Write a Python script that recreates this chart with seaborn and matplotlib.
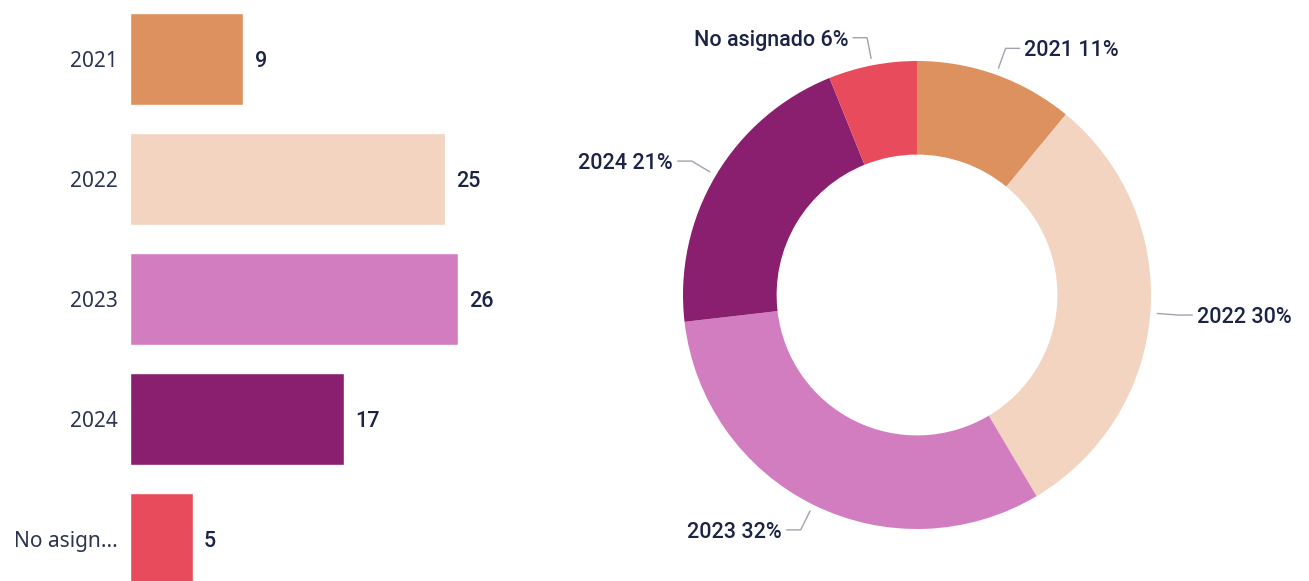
import numpy as np
import pandas as pd
import seaborn as sns
import matplotlib.pyplot as plt

# data
categorias = ["2021", "2022", "2023", "2024", "No asignado"]
etiquetas_eje = ["2021", "2022", "2023", "2024", "No asign..."]
cantidades = [9, 25, 26, 17, 5]
colores = ["#DD915E", "#F2D4C0", "#D37DC1", "#8B1F6F", "#E84C5C"]

texto_eje = "#2B3550"
texto_dato = "#1B2447"
gris_linea = "#9EA3AE"

sns.set_theme(style="white")
plt.rcParams["font.family"] = ["Noto Sans", "DejaVu Sans"]

fig = plt.figure(figsize=(13.09, 5.81), dpi=100)
W, H = 1309, 581

# ---- left: horizontal bars
ax = fig.add_axes([130 / W, 0, 400 / W, 1])
df = pd.DataFrame({"cat": categorias, "n": cantidades})
sns.barplot(data=df, y="cat", x="n", hue="cat", palette=colores,
            orient="h", width=0.767, legend=False, ax=ax, saturation=1)
ax.set_xlim(0, 400 / 12.6)
ax.set_ylim(522 / 120, -59 / 120)
ax.set_xlabel("")
ax.set_ylabel("")
ax.set_xticks([])
ax.set_yticks(range(len(categorias)))
ax.set_yticklabels(etiquetas_eje, fontsize=15, color=texto_eje)
ax.tick_params(axis="y", length=0, pad=9)
for s in ax.spines.values():
    s.set_visible(False)
for i, v in enumerate(cantidades):
    ax.annotate(str(v), (v, i), xytext=(8, 0), textcoords="offset points",
                va="center_baseline", ha="left", fontsize=15.5, color=texto_dato,
                family="Roboto", fontweight="medium")

# ---- right: donut
cx, cy, r = 917, 295, 234
axd = fig.add_axes([(cx - r) / W, (H - cy - r) / H, 2 * r / W, 2 * r / H])
wedges, _ = axd.pie(cantidades, colors=colores, startangle=90, counterclock=False,
                    radius=1.0, wedgeprops=dict(width=0.4, linewidth=0))
axd.set_xlim(-1, 1)
axd.set_ylim(-1, 1)
axd.set_aspect("equal")
axd.axis("off")

total = sum(cantidades)
for w, cat, v in zip(wedges, categorias, cantidades):
    ang = np.deg2rad((w.theta1 + w.theta2) / 2)
    c, s = np.cos(ang), np.sin(ang)
    x0, y0 = 1.03 * c, 1.03 * s
    x1, y1 = 1.12 * c, 1.12 * s
    d = 1 if c >= 0 else -1
    x2 = x1 + d * 0.06
    axd.plot([x0, x1, x2], [y0, y1, y1], color=gris_linea, lw=1, clip_on=False)
    axd.text(x2 + d * 0.02, y1, f"{cat} {round(100 * v / total)}%",
             ha="left" if d > 0 else "right", va="center_baseline", fontsize=15.5,
             color=texto_dato, family="Roboto", fontweight="medium")

fig.savefig("out.png", dpi=100, facecolor="white")
